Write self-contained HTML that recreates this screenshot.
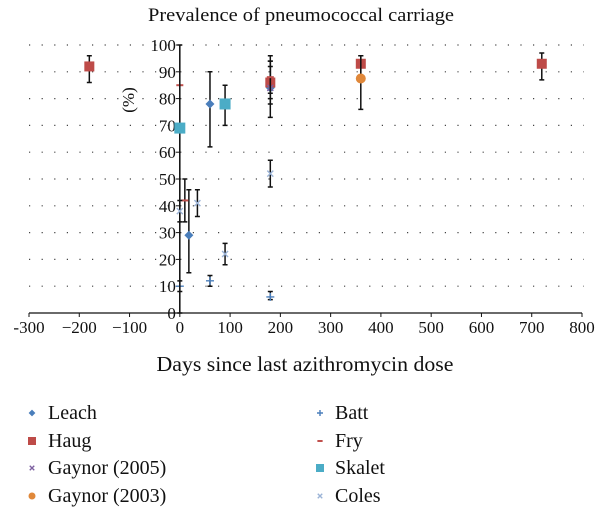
<!DOCTYPE html>
<html><head><meta charset="utf-8"><style>
body{margin:0;background:#fff;}
svg{display:block;font-family:"Liberation Serif",serif;}
</style></head><body>
<svg id="chart" width="610" height="521" viewBox="0 0 610 521" xmlns="http://www.w3.org/2000/svg">
<text x="301" y="21" text-anchor="middle" font-size="19" textLength="306" lengthAdjust="spacingAndGlyphs" fill="#111">Prevalence of pneumococcal carriage</text>
<g id="grid"></g>
<g id="axes"></g>
<g id="marks"></g>
<text transform="translate(134,100) rotate(-90)" text-anchor="middle" font-size="17" fill="#111">(%)</text>
<text x="305" y="371" text-anchor="middle" font-size="21" textLength="297" lengthAdjust="spacingAndGlyphs" fill="#111">Days since last azithromycin dose</text>
<g id="legend"></g>
</svg>
<script>
const xTicks=[-300,-200,-100,0,100,200,300,400,500,600,700,800];
const yTicks=[0,10,20,30,40,50,60,70,80,90,100];
const seriesNames=["Leach","Haug","Gaynor (2005)","Gaynor (2003)","Batt","Fry","Skalet","Coles"];
const leachX=[18,60,180];const leachY=[29,78,84];const leachLo=[15,62,78];const leachHi=[46,90,92];
const haugX=[-180,180,360,720];const haugY=[92,86,93,93];const haugLo=[86,73,88,87];const haugHi=[96,96,96,97];
const gaynor05X=[180];const gaynor05Y=[84];const gaynor05Lo=[80];const gaynor05Hi=[94];
const gaynor03X=[360];const gaynor03Y=[87.5];const gaynor03Lo=[76];const gaynor03Hi=[96];
const battX=[0,60,180];const battY=[10,12,6];const battLo=[8,10,5];const battHi=[12,14,8];
const fryX=[0,10,180];const fryY=[85,42,88];const fryLo=[85,34,82];const fryHi=[85,50,94];
const skaletX=[0,90];const skaletY=[69,78];const skaletLo=[0,70];const skaletHi=[100,85];
const colesX=[0,35,90,180];const colesY=[38,41,22,52];const colesLo=[34,36,18,47];const colesHi=[42,46,26,57];

const NS="http://www.w3.org/2000/svg";
const X0=29,X1=582,Y0=313,Y1=45;
const sx=v=>X0+(v+300)/1100*(X1-X0);
const sy=v=>Y0-v/100*(Y0-Y1);
function mk(tag,attrs,parent){const e=document.createElementNS(NS,tag);for(const k in attrs)e.setAttribute(k,attrs[k]);parent.appendChild(e);return e;}
const grid=document.getElementById('grid'),axes=document.getElementById('axes'),marks=document.getElementById('marks'),legend=document.getElementById('legend');
yTicks.forEach(t=>{if(t===0)return;
 const l=mk('line',{x1:X0,x2:X1+2,y1:sy(t),y2:sy(t),stroke:'#444','stroke-width':1.2,'stroke-dasharray':'1.2 11.4'},grid);
 
 
});
const xa=mk('line',{x1:X0,x2:X1,y1:Y0,y2:Y0,stroke:'#111','stroke-width':1.3},axes);


const ya=mk('line',{x1:sx(0),x2:sx(0),y1:Y0,y2:Y1,stroke:'#111','stroke-width':1.3},axes);


xTicks.forEach(t=>{
 mk('line',{x1:sx(t),x2:sx(t),y1:Y0,y2:Y0+4,stroke:'#111'},axes);
 const tx=mk('text',{x:sx(t),y:Y0+20,'text-anchor':'middle','font-size':17,fill:'#111'},axes);
 tx.textContent=t<0?(t===-300?'-300':'\u2212'+(-t)):String(t);
 
 
});
yTicks.forEach(t=>{
 mk('line',{x1:sx(0)-4,x2:sx(0),y1:sy(t),y2:sy(t),stroke:'#111'},axes);
 const tx=mk('text',{x:sx(0)-4,y:sy(t)+6,'text-anchor':'end','font-size':17,fill:'#111'},axes);
 tx.textContent=String(t);
 
 
});
function marker(type,color,x,y,p,s){
 s=s||1;
 if(type==='diamond')mk('path',{d:`M${x},${y-4.5*s}L${x+4.5*s},${y}L${x},${y+4.5*s}L${x-4.5*s},${y}Z`,fill:color},p);
 else if(type==='square')mk('rect',{x:x-5,y:y-5,width:10,height:10,fill:color},p);
 else if(type==='bigsquare')mk('rect',{x:x-5.5,y:y-5.5,width:11,height:11,fill:color},p);
 else if(type==='x'){mk('path',{d:`M${x-3*s},${y-3*s}L${x+3*s},${y+3*s}M${x-3*s},${y+3*s}L${x+3*s},${y-3*s}`,stroke:color,'stroke-width':1.4},p);}
 else if(type==='circle')mk('circle',{cx:x,cy:y,r:5,fill:color},p);
 else if(type==='plus')mk('path',{d:`M${x-4*s},${y}L${x+4*s},${y}M${x},${y-4*s}L${x},${y+4*s}`,stroke:color,'stroke-width':1.4},p);
 else if(type==='dash')mk('path',{d:`M${x-3.5*s},${y}L${x+3.5*s},${y}`,stroke:color,'stroke-width':2},p);
}
const defs=[
 [leachX,leachY,leachLo,leachHi,'diamond','#4a7ebb'],
 [haugX,haugY,haugLo,haugHi,'square','#be4b48'],
 [gaynor05X,gaynor05Y,gaynor05Lo,gaynor05Hi,'x','#7d60a0'],
 [gaynor03X,gaynor03Y,gaynor03Lo,gaynor03Hi,'circle','#e0883a'],
 [battX,battY,battLo,battHi,'plus','#4a7ebb'],
 [fryX,fryY,fryLo,fryHi,'dash','#c0504d'],
 [skaletX,skaletY,skaletLo,skaletHi,'bigsquare','#4bacc6'],
 [colesX,colesY,colesLo,colesHi,'x','#9bb3d6']
];
defs.forEach((d,si)=>{
 const g=mk('g',{},marks);
 
 
 d[0].forEach((xv,i)=>{
  const x=sx(xv);
  if(d[3][i]!==d[2][i]){
   const e=mk('path',{d:`M${x},${sy(d[2][i])}L${x},${sy(d[3][i])}M${x-2.5},${sy(d[2][i])}L${x+2.5},${sy(d[2][i])}M${x-2.5},${sy(d[3][i])}L${x+2.5},${sy(d[3][i])}`,stroke:'#111','stroke-width':1.5},g);
   
   
  }
 });
 d[0].forEach((xv,i)=>marker(d[4],d[5],sx(xv),sy(d[1][i]),g));
});
const legX=[32,320],legTX=[48,335],legY=[413,441,468,496];
defs.forEach((d,si)=>{
 const col=si<4?0:1,row=si%4;
 const g=mk('g',{},legend);
 
 
 let t=d[4];
 if(t==='bigsquare'||t==='square'){mk('rect',{x:legX[col]-4,y:legY[row]-4,width:8,height:8,fill:d[5]},g);}
 else if(t==='circle')mk('circle',{cx:legX[col],cy:legY[row],r:3.5,fill:d[5]},g);
 else marker(t,d[5],legX[col],legY[row],g,0.75);
 const tx=mk('text',{x:legTX[col],y:legY[row]+6,'font-size':20,fill:'#111'},g);
 tx.textContent=seriesNames[si];
});
</script>
</body></html>
